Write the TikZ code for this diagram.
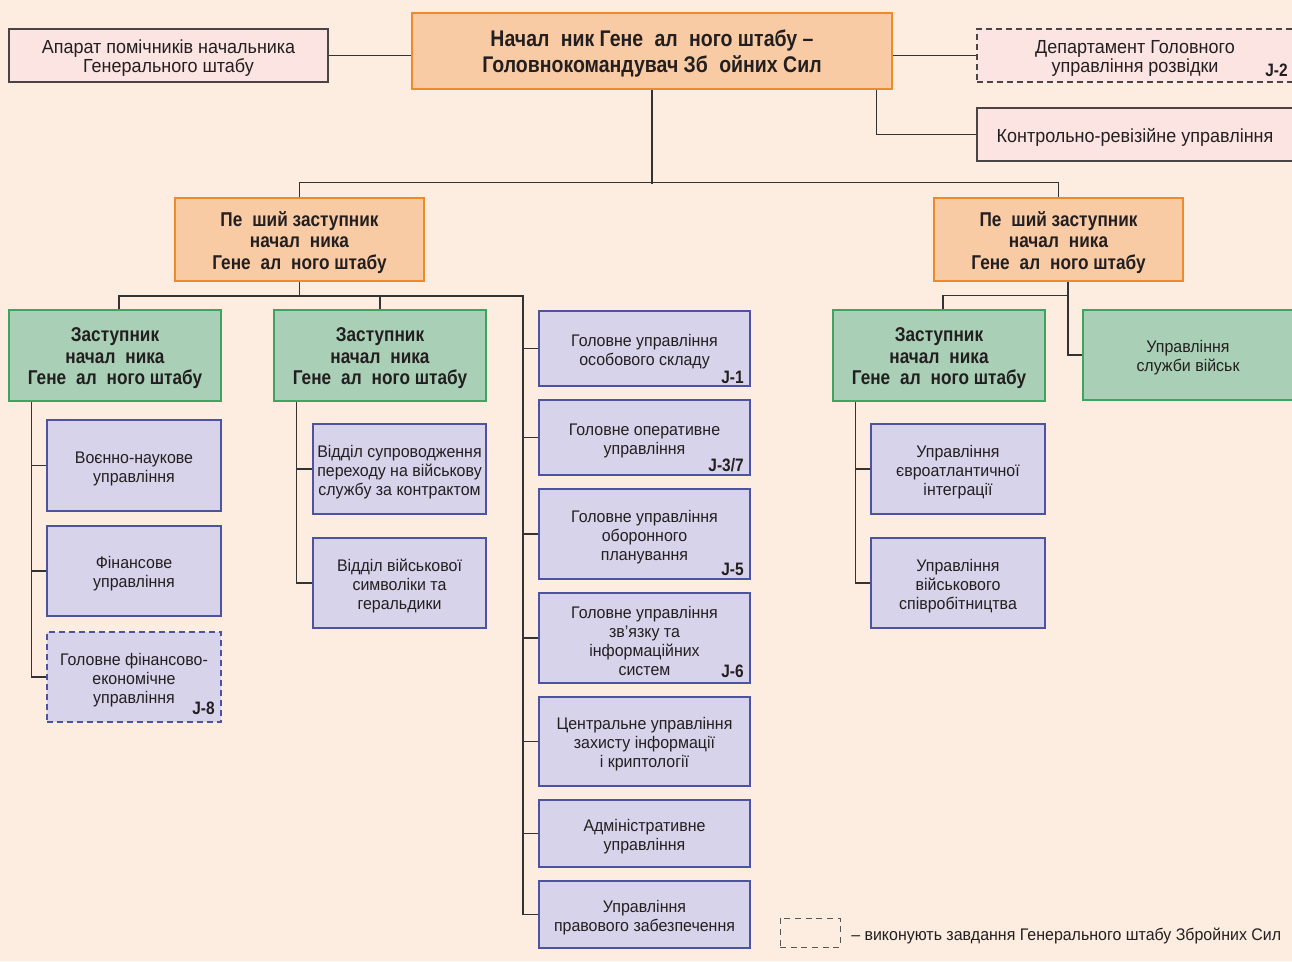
\documentclass[tikz,border=0pt]{standalone}
\usepackage{fontspec}
\setmainfont{Liberation Sans}[FakeStretch=0.95, BoldFeatures={FakeStretch=0.86}]
\definecolor{bg}{HTML}{FDEDE0}
\definecolor{txt}{HTML}{231F20}
\definecolor{orfill}{HTML}{F8CBA4}
\definecolor{ordraw}{HTML}{EE8A2E}
\definecolor{pkfill}{HTML}{FCE4E2}
\definecolor{pkdraw}{HTML}{4A4444}
\definecolor{grfill}{HTML}{A9D0B6}
\definecolor{grdraw}{HTML}{3FA461}
\definecolor{lvfill}{HTML}{D7D3EA}
\definecolor{lvdraw}{HTML}{4D52A1}
\definecolor{ln}{HTML}{333333}
\definecolor{legd}{HTML}{5A5656}
\newcommand\gp{\hspace{0.5em}}
\newcommand\fN{\fontsize{12.6}{14.3}\selectfont}
\newcommand\fL{\fontsize{14.2}{14.3}\selectfont}
\newcommand\fT{\bfseries\fontsize{17}{19.5}\selectfont}
\newcommand\fD{\bfseries\fontsize{15}{16.1}\selectfont}
\newcommand\fJ{\bfseries\fontsize{13.5}{14}\selectfont}
% #1 name, #2 style, #3 x1, #4 y1, #5 x2, #6 y2, #7 text
\newcommand\bx[7]{%
  \node[#2, minimum width={(#5-#3)*0.75pt}, minimum height={(#6-#4)*0.75pt}] (#1) at ({(#3+#5)/2},{(#4+#6)/2}) {};
  \node[#2, draw=none, fill=none, minimum width=0pt, minimum height=0pt] (#1t) at ([yshift=-2.25pt]#1.center) {#7};}
\begin{document}
\begin{tikzpicture}[x=0.75pt,y=-0.75pt,
  box/.style={draw, line width=1pt, inner sep=0pt, align=center, text=txt, font=\fN},
  orbox/.style={box, fill=orfill, draw=ordraw},
  pkbox/.style={box, fill=pkfill, draw=pkdraw, font=\fL},
  pkdash/.style={pkbox, dash pattern=on 4.5pt off 3pt},
  grbox/.style={box, fill=grfill, draw=grdraw},
  lvbox/.style={box, fill=lvfill, draw=lvdraw},
  lvdash/.style={lvbox, dash pattern=on 4.5pt off 3pt},
  jl/.style={font=\fJ, text=txt, inner sep=0pt, anchor=base east},
  conn/.style={draw=ln, line width=1pt}]
\fill[bg] (0,0) rectangle (1292,961);
\useasboundingbox (0,0) rectangle (1292,961);

% top row
\bx{top}{orbox, font=\fT}{412}{13}{892}{89}{Начал\gp{}ник Гене\gp{}ал\gp{}ного штабу –\\Головнокомандувач Зб\gp{}ойних Сил}
\bx{ap}{pkbox}{9}{29}{328}{82}{Апарат помічників начальника\\Генерального штабу}
\bx{gur}{pkdash}{977}{29}{1293}{82}{Департамент Головного\\управління розвідки}
\bx{kr}{pkbox}{977}{108}{1293}{161}{Контрольно-ревізійне управління}
\node[jl] at (1288,76) {J-2};

% deputies
\bx{dep1}{orbox, font=\fD}{175}{198}{424}{281}{Пе\gp{}ший заступник\\начал\gp{}ника\\Гене\gp{}ал\gp{}ного штабу}
\bx{dep2}{orbox, font=\fD}{934}{198}{1183}{281}{Пе\gp{}ший заступник\\начал\gp{}ника\\Гене\gp{}ал\gp{}ного штабу}

% green
\bx{g1}{grbox, font=\fD}{9}{310}{221}{401}{Заступник\\начал\gp{}ника\\Гене\gp{}ал\gp{}ного штабу}
\bx{g2}{grbox, font=\fD}{274}{310}{486}{401}{Заступник\\начал\gp{}ника\\Гене\gp{}ал\gp{}ного штабу}
\bx{g3}{grbox, font=\fD}{833}{310}{1045}{401}{Заступник\\начал\gp{}ника\\Гене\gp{}ал\gp{}ного штабу}
\bx{sv}{grbox}{1083}{310}{1293}{400}{Управління\\служби військ}

% column under g1
\bx{a1}{lvbox}{47}{420}{221}{511}{Воєнно-наукове\\управління}
\bx{a2}{lvbox}{47}{526}{221}{616}{Фінансове\\управління}
\bx{a3}{lvdash}{47}{632}{221}{722}{Головне фінансово-\\економічне\\управління}
\node[jl] at (215,714) {J-8};

% column under g2
\bx{b1}{lvbox}{313}{424}{486}{514}{Відділ супроводження\\переходу на військову\\службу за контрактом}
\bx{b2}{lvbox}{313}{538}{486}{628}{Відділ військової\\символіки та\\геральдики}

% middle column
\bx{l1}{lvbox}{539}{311}{750}{386}{Головне управління\\особового складу}
\bx{l2}{lvbox}{539}{400}{750}{475}{Головне оперативне\\управління}
\bx{l3}{lvbox}{539}{489}{750}{579}{Головне управління\\оборонного\\планування}
\bx{l4}{lvbox}{539}{593}{750}{683}{Головне управління\\зв'язку та\\інформаційних\\систем}
\bx{l5}{lvbox}{539}{697}{750}{786}{Центральне управління\\захисту інформації\\і криптології}
\bx{l6}{lvbox}{539}{800}{750}{867}{Адміністративне\\управління}
\bx{l7}{lvbox}{539}{881}{750}{948}{Управління\\правового забезпечення}
\node[jl] at (744,383) {J-1};
\node[jl] at (744,471) {J-3/7};
\node[jl] at (744,575) {J-5};
\node[jl] at (744,677) {J-6};

% right column under g3
\bx{r1}{lvbox}{871}{424}{1045}{514}{Управління\\євроатлантичної\\інтеграції}
\bx{r2}{lvbox}{871}{538}{1045}{628}{Управління\\військового\\співробітництва}

% legend
\node[draw=legd, line width=0.7pt, dash pattern=on 4.5pt off 3.5pt, minimum width=45pt, minimum height=21.75pt, inner sep=0pt] (leg) at (810,932.5) {};
\node[font=\fN, text=txt, anchor=west, inner sep=0pt] (legt) at (851,936) {– виконують завдання Генерального штабу Збройних Сил};

% connectors
\draw[conn] (ap.east) -- (ap.east -| top.west);
\draw[conn] (top.east |- gur.west) -- (gur.west);
\draw[conn] ([xshift=-12pt]top.south east) |- (kr.west);
\draw[conn] (top.south) -- ++(0,94);
\draw[conn] (dep1.north) -- ++(0,-15) -| (dep2.north);

\coordinate (bus) at (523,296);
\draw[conn] (dep1.south) -- ++(0,15);
\draw[conn] ([xshift=3pt]g1.north) |- (bus) -- (bus |- l7.west) -- (l7.west);
\draw[conn] (g2.north) -- ++(0,-14);
\foreach \n in {l1,l2,l3,l4,l5,l6} \draw[conn] (\n.west) -- (\n.west -| bus);

\draw[conn] ([xshift=17.25pt]g1.south west) |- (a3.west);
\draw[conn] (a1.west) -- ++(-15,0);
\draw[conn] (a2.west) -- ++(-15,0);

\draw[conn] ([xshift=17.25pt]g2.south west) |- (b2.west);
\draw[conn] (b1.west) -- ++(-16,0);

\draw[conn] ([xshift=7.1pt]dep2.south) |- (sv.west);
\draw[conn] ([xshift=3pt]g3.north) -- ++(0,-14) -| ([xshift=7.1pt]dep2.south);
\draw[conn] ([xshift=17.25pt]g3.south west) |- (r2.west);
\draw[conn] (r1.west) -- ++(-15,0);
\end{tikzpicture}
\end{document}
